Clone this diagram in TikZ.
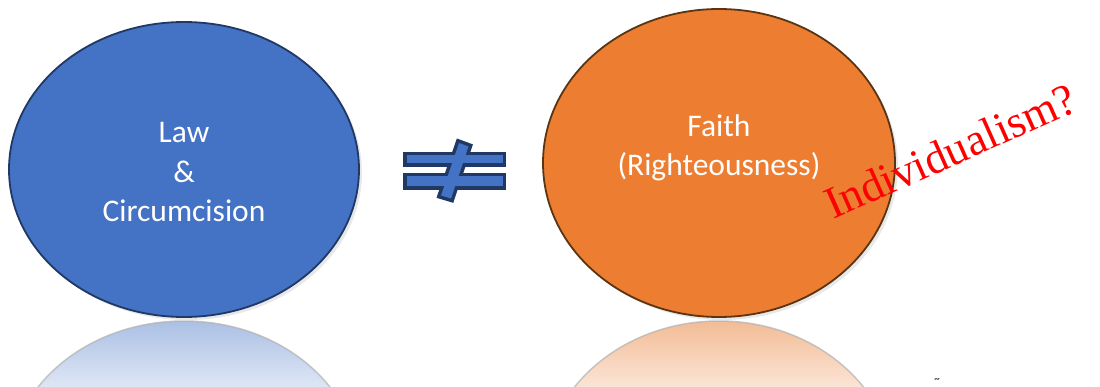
\documentclass[tikz,border=0pt]{standalone}
\usepackage{fontspec}
\setmainfont{Carlito}
\newfontfamily\timesfont{Liberation Serif}
\usepackage{xcolor}
\usepackage{tikz}
\usetikzlibrary{shapes.geometric,shadows,positioning,calc}
\definecolor{lawBlue}{HTML}{4472C4}
\definecolor{lawEdge}{HTML}{1F3864}
\definecolor{faithOrange}{HTML}{ED7D31}
\definecolor{faithEdge}{HTML}{5A3514}
\definecolor{blueTop}{HTML}{ABC0E4}
\definecolor{blueLow}{HTML}{DDE6F4}
\definecolor{orangeTop}{HTML}{F2BC96}
\definecolor{orangeLow}{HTML}{FBE4D5}

\begin{document}
\begin{tikzpicture}[
    x=1pt, y=1pt,
    blobNode/.style={ellipse, inner sep=0pt, line width=1.8pt,
      drop shadow={opacity=0.18, shadow xshift=3pt, shadow yshift=-3pt}},
    blobText/.style={text=white, align=center, font=\fontsize{31.5}{39.5}\selectfont},
    mirrorEdge/.style={draw=gray!60, line width=1.5pt, opacity=0.7},
    signEdge/.style={draw=lawEdge, line width=7pt, line join=miter}
]
\useasboundingbox (0,0) rectangle (1100,386);

% reflections under the two ellipses
\begin{scope}
  \clip (184,-82.5) ellipse (175 and 147.5);
  \shade[top color=blueTop, bottom color=blueLow] (0,0) rectangle (1100,65);
\end{scope}
\draw[mirrorEdge] (184,-82.5) ellipse (175 and 147.5);
\begin{scope}
  \clip (719,-89) ellipse (176 and 154);
  \shade[top color=orangeTop, bottom color=orangeLow] (0,0) rectangle (1100,65);
\end{scope}
\draw[mirrorEdge] (719,-89) ellipse (176 and 154);

% the two ellipses
\node[blobNode, draw=lawEdge, fill=lawBlue, minimum width=350pt, minimum height=295pt] (law) at (184,216.5) {};
\node[blobText] (lawText) at ([yshift=-3pt]law.center) {Law\\\&\\Circumcision};

\node[blobNode, draw=faithEdge, fill=faithOrange, minimum width=352pt, minimum height=308pt] (faith) at (719,223) {};
\node[blobText] (faithText) at ([yshift=15pt]faith.center) {Faith\\(Righteousness)};

% not-equal sign: outlines first, then the fill over them
\draw[signEdge] (406.5,230.5) rectangle (502.5,222.5);
\draw[signEdge] (406.5,209.5) rectangle (502.5,199.5);
\draw[signEdge] (459,243) -- (468.5,239.5) -- (451,187.5) -- (441,190.5) -- cycle;
\fill[lawBlue] (406.5,230.5) rectangle (502.5,222.5);
\fill[lawBlue] (406.5,209.5) rectangle (502.5,199.5);
\fill[lawBlue] (459,243) -- (468.5,239.5) -- (451,187.5) -- (441,190.5) -- cycle;

\node[text=red, inner sep=0pt, anchor=base west, rotate=24,
      font=\timesfont\fontsize{45}{50}\selectfont] (ques) at (833,166) {Individualism?};

\node[inner sep=0pt, font=\fontsize{11}{12}\selectfont] (tilde) at (937,5) {\textasciitilde};

\end{tikzpicture}
\end{document}
